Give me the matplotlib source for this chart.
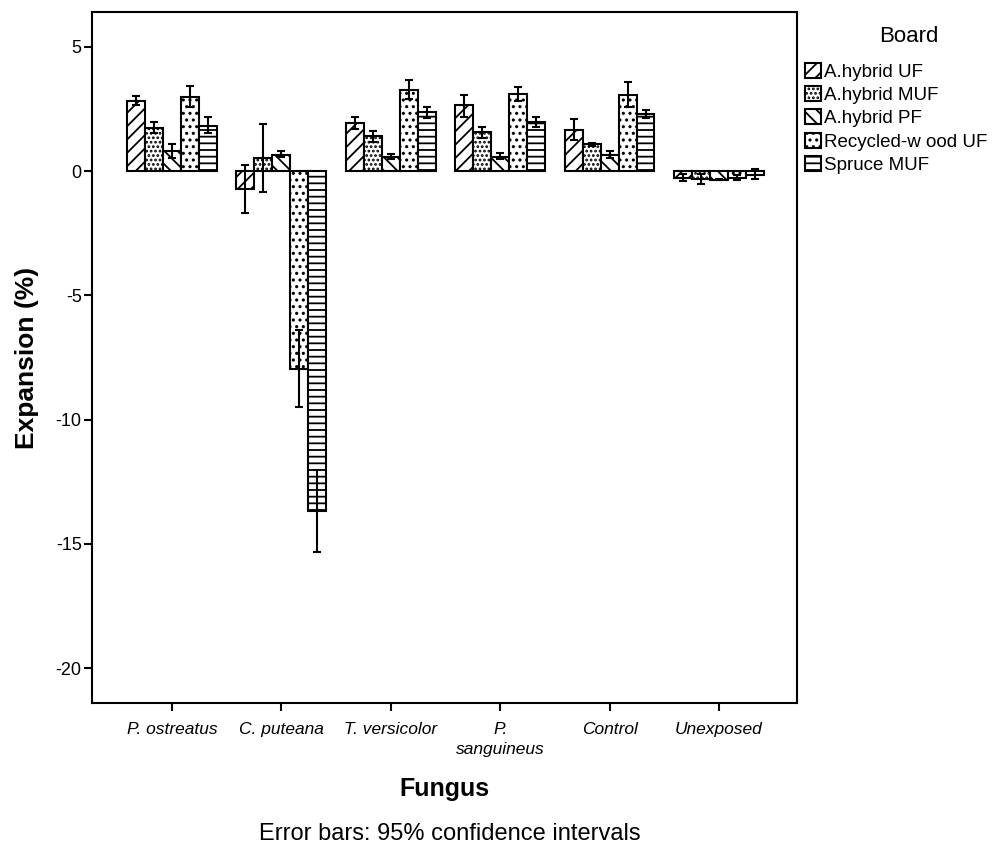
import matplotlib
matplotlib.use("Agg")
import matplotlib.pyplot as plt
import numpy as np

# Rendered at 80 dpi so the hatch patterns come out at their finer spacing;
# every size given in points is scaled by S to keep the 100-dpi look.
DPI = 80
S = 100 / DPI

plt.rcParams['font.family'] = ['Liberation Sans', 'DejaVu Sans']
plt.rcParams['hatch.linewidth'] = 1.3 * S

fungi = ["P. ostreatus", "C. puteana", "T. versicolor", "P.\nsanguineus", "Control", "Unexposed"]
boards = ["A.hybrid UF", "A.hybrid MUF", "A.hybrid PF", "Recycled-w ood UF", "Spruce MUF"]
hatches = ["//", "...", "\\\\", "..", "--"]

# mean expansion (%) per board, in fungus order
ah_uf = [2.82, -0.71, 1.94, 2.66, 1.67, -0.27]
ah_muf = [1.74, 0.51, 1.39, 1.56, 1.09, -0.31]
ah_pf = [0.82, 0.66, 0.57, 0.58, 0.65, -0.35]
rw_uf = [2.98, -7.97, 3.27, 3.08, 3.07, -0.27]
sp_muf = [1.82, -13.67, 2.36, 1.98, 2.30, -0.14]

# 95% confidence limits (lower, upper)
ah_uf_lo = [2.65, -1.70, 1.69, 2.19, 1.25, -0.41]
ah_uf_hi = [3.01, 0.26, 2.16, 3.07, 2.08, -0.11]
ah_muf_lo = [1.51, -0.85, 1.18, 1.32, 1.01, -0.51]
ah_muf_hi = [1.98, 1.90, 1.61, 1.76, 1.14, -0.11]
ah_pf_lo = [0.53, 0.55, 0.49, 0.47, 0.51, -0.38]
ah_pf_hi = [1.08, 0.80, 0.69, 0.71, 0.80, -0.32]
rw_uf_lo = [2.56, -9.51, 2.90, 2.83, 2.56, -0.38]
rw_uf_hi = [3.43, -6.38, 3.66, 3.37, 3.57, -0.18]
sp_muf_lo = [1.51, -15.33, 2.12, 1.79, 2.14, -0.31]
sp_muf_hi = [2.16, -12.03, 2.59, 2.16, 2.46, 0.09]

means = [ah_uf, ah_muf, ah_pf, rw_uf, sp_muf]
lows = [ah_uf_lo, ah_muf_lo, ah_pf_lo, rw_uf_lo, sp_muf_lo]
highs = [ah_uf_hi, ah_muf_hi, ah_pf_hi, rw_uf_hi, sp_muf_hi]

W, H = 1006, 852
fig = plt.figure(figsize=(W / DPI, H / DPI), dpi=DPI)
ax = fig.add_axes([0.0915, 0.1749, 0.7005, 0.8111])

x = np.arange(len(fungi))
w = 0.164
for i, (m, lo, hi, h, lab) in enumerate(zip(means, lows, highs, hatches, boards)):
    pos = x + (i - 2) * w
    m = np.array(m)
    ax.bar(pos, m, width=w, facecolor="white", edgecolor="black",
           linewidth=1.5 * S, hatch=h, label=lab, zorder=2)
    yerr = np.vstack([m - np.array(lo), np.array(hi) - m])
    ax.errorbar(pos, m, yerr=yerr, fmt="none", ecolor="black",
                elinewidth=1.5 * S, capsize=3 * S, capthick=1.5 * S, zorder=3)

ax.set_xlim(-0.73, 5.71)
ax.set_ylim(-21.4, 6.4)
ax.set_yticks([5, 0, -5, -10, -15, -20])
ax.set_yticklabels(["5", "0", "-5", "-10", "-15", "-20"], fontsize=13 * S)
ax.set_xticks(x)
ax.set_xticklabels(fungi, fontsize=12.5 * S, style="italic", linespacing=1.45)
ax.tick_params(axis="both", direction="out", length=5.5 * S, width=1.5 * S, pad=2 * S)
ax.tick_params(axis="x", pad=8 * S)
for s in ax.spines.values():
    s.set_linewidth(1.5 * S)

ax.set_ylabel("Expansion (%)", fontsize=19 * S, fontweight="bold", labelpad=12 * S)
ax.set_xlabel("Fungus", fontsize=18 * S, fontweight="bold", labelpad=14 * S)

fig.text(0.447, 1 - 834 / H, "Error bars: 95% confidence intervals", fontsize=17 * S,
         ha="center", va="center")

# legend block to the right of the axes, with its heading centred above
fig.text(909 / W, 1 - 37 / H, "Board", fontsize=16 * S, ha="center", va="center")
leg = ax.legend(loc="upper left", bbox_to_anchor=(805 / W, 1 - 63 / H),
                bbox_transform=fig.transFigure, frameon=False,
                fontsize=13.5 * S, borderpad=0, borderaxespad=0,
                handlelength=0.85, handleheight=0.85, handletextpad=0.15,
                labelspacing=0.28)

fig.savefig("out.png", dpi=DPI)
